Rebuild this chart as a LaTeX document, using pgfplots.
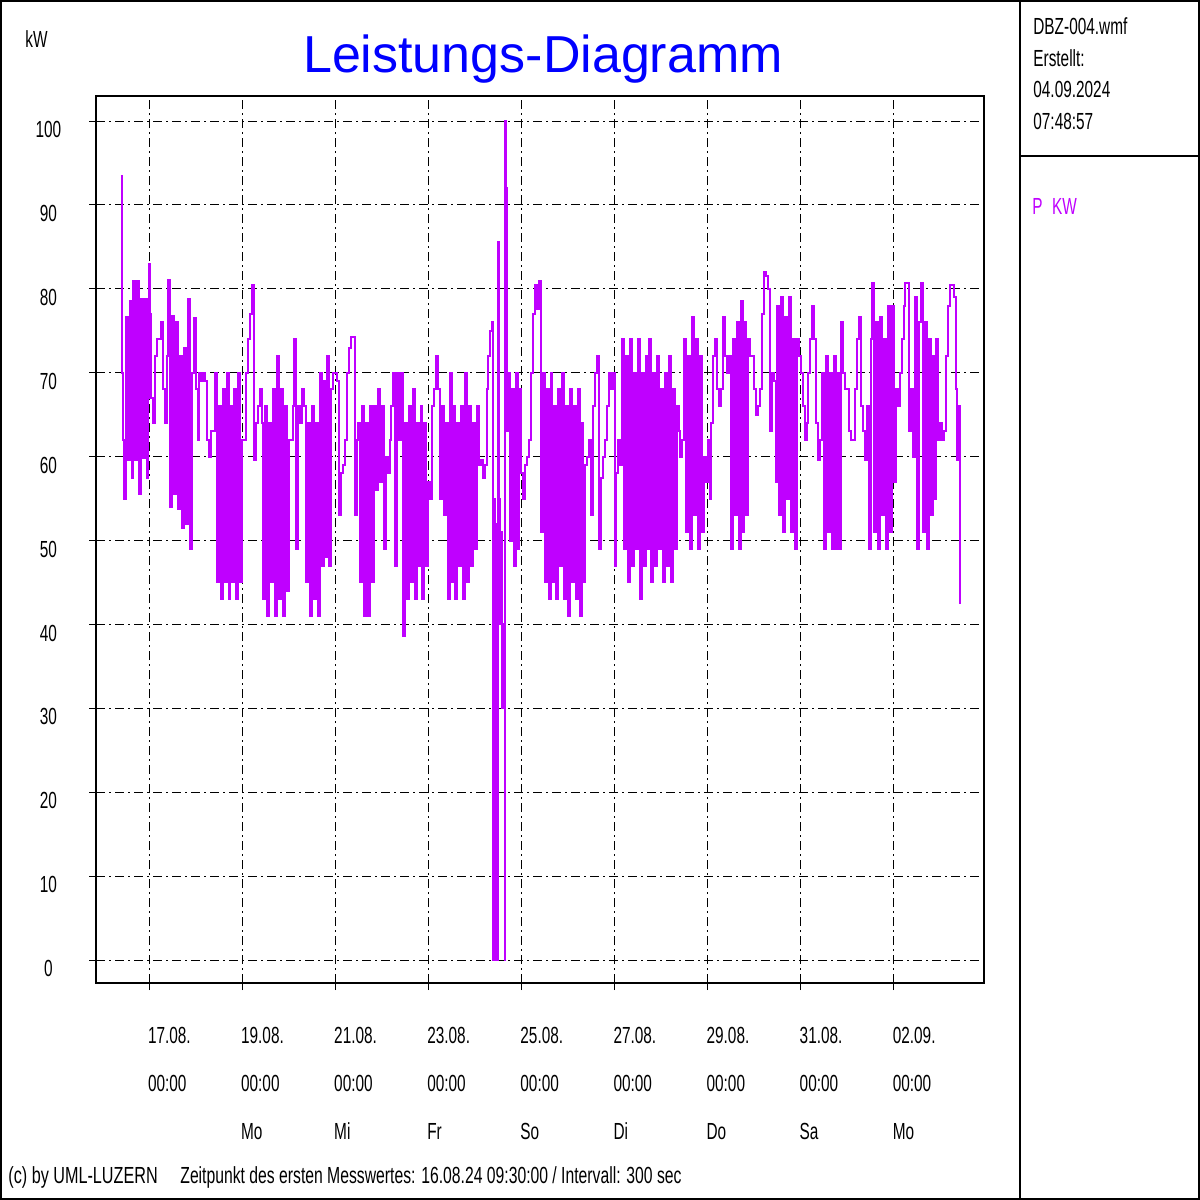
\documentclass[border=0pt]{standalone}
\usepackage{fontspec}
\usepackage{pgfplots}
\pgfplotsset{compat=1.18}
\setmainfont{Liberation Sans}[FakeStretch=0.66]
\newfontfamily\titlefont{Liberation Sans}
\newfontfamily\footfont{Liberation Sans}[FakeStretch=0.695]
\newfontfamily\footfontb{Liberation Sans}[FakeStretch=0.675]
\definecolor{ppl}{RGB}{191,0,255}
\definecolor{ttl}{RGB}{0,0,255}
\newcommand{\lbl}{\fontsize{11.65bp}{24bp}\selectfont}
\begin{document}
\begin{tikzpicture}
\path[use as bounding box] (0,0) rectangle (600bp,-600bp);
\begin{axis}[
  at={(48bp,-491.5bp)}, anchor=south west, scale only axis,
  width=444bp, height=443.5bp,
  xmin=-27.33, xmax=430.5, ymin=-2.74, ymax=102.98,
  axis line style={black, line width=0.75bp},
  xtick={0,48,...,384}, ytick={0,10,...,100},
  tick pos=left,
  grid=major,
  major grid style={black, line width=0.5bp, dash pattern=on 4.5bp off 2bp on 1bp off 2bp},
  tick align=outside, major tick length=3.5bp,
  major tick style={black, line width=0.5bp},
  xticklabels={{17.08.\\00:00\\\strut}, {19.08.\\00:00\\Mo}, {21.08.\\00:00\\Mi}, {23.08.\\00:00\\Fr}, {25.08.\\00:00\\So}, {27.08.\\00:00\\Di}, {29.08.\\00:00\\Do}, {31.08.\\00:00\\Sa}, {02.09.\\00:00\\Mo}},
  xticklabel style={font=\lbl, align=left, anchor=north west, inner sep=0pt, yshift=-18.5bp, xshift=-0.7bp},
  yticklabel style={font=\lbl, anchor=north, inner sep=0pt, xshift=-20.3bp},
  /pgf/number format/assume math mode=true,
]
\addplot[const plot, color=ppl, line width=1bp] coordinates {
(-14.5,93.5) (-14,70) (-13.5,62) (-13,55) (-12,76.6) (-11,59.6) (-10,78.5) (-9,57.5) (-8,80.9) (-7,59.6) (-6,80.9) (-5,55.5) (-4,78.8) (-3,59.8) (-2,78.8) (-1,57.5) (-0.5,67) (0,83) (0.5,77) (1,67) (2,64) (3,72) (4,74) (5,74) (6,76) (7,68) (8,64) (9,64) (9.5,72)
(10,81) (11,54) (12,76.8) (13,55.5) (14,76) (15,53.7) (16,72) (17,51.5) (18,73) (19,52) (20,78.8) (21,49) (22,70) (23,76.5) (24,68) (25,62) (26,70) (27,69) (28,70) (29,69) (30,62) (31,60) (32,63) (33,63)
(34,70) (35,45) (36,66) (37,43) (38,68) (39,45) (40,70) (41,43) (42,66) (43,45) (44,68) (45,43) (46,70) (47,45) (48,62) (49,62)
(50,70) (51,74) (52,77) (53,80.5) (54,59.6) (55,64) (56,66) (57,68)
(58,64) (59,43) (60,66) (61,41) (62,64) (63,45) (64,68) (65,41) (66,72) (67,43) (68,68) (69,41) (70,66) (71,44)
(72,62) (73,62) (74,66) (75,74) (76,49) (77,66) (78,64) (79,68) (80,66)
(81,45) (82,64) (83,41) (84,66) (85,43) (86,64) (87,41) (88,70)
(89,47) (90,69) (91,48) (92,72) (93,47) (94,68)
(95,70) (96,70) (97,69) (98,53) (99,58) (100,59) (101,62) (102,70) (103,73) (104,74.3) (105,74.3) (106,53) (107,62)
(108,64) (109,45) (110,66) (111,41) (112,64) (113,41) (114,66) (115,45)
(116,66) (117,56) (118,68) (119,57) (120,66)
(121,49) (122,60) (123,58) (124,62) (125,66) (126,70) (127,47) (128,70) (129,62) (130,70)
(131,38.6) (132,64) (133,43) (134,66) (135,45) (136,68) (137,43) (138,64) (139,47) (140,66) (141,43) (142,64) (143,47)
(144,57) (145,55) (146,66) (147,68) (148,72) (149,68)
(150,55) (151,66) (152,53) (153,64) (154,43) (155,70) (156,45) (157,66) (158,43) (159,64) (160,47) (161,66) (162,43) (163,70) (164,45) (165,66) (166,47) (167,64) (168,49) (169,66)
(170,59) (171,59.6) (172,57.5) (173,59) (174,68) (175,72) (176,75) (177,76)
(177.5,0) (178,55) (178.5,0) (179,52) (179.5,0) (180,85.6) (180.5,55) (181,40) (181.5,51) (182,30) (182.5,40) (183,36) (183.3,0) (183.6,100) (184,92) (184.5,63)
(185,70) (186,50) (187,68) (188,47) (189,70) (190,49) (191,68)
(192,58) (193,55) (194,59) (195,60) (196,62)
(197,70) (198,77) (199,80.4) (200,77.6) (201,80.9)
(202,51) (203,70) (204,45) (205,68) (206,43) (207,70) (208,45) (209,66) (210,43) (211,68) (212,47) (213,70) (214,43) (215,66) (216,41) (217,68) (218,45) (219,66) (220,43) (221,68) (222,41) (223,64) (224,45)
(225,59) (226,60) (227,62) (228,53) (229,66) (230,70) (231,72) (232,49) (233,57.5) (234,60) (235,62) (236,66) (237,70) (238,68) (239,70) (240,47) (241,58) (242,62) (243,59)
(244,74) (245,49) (246,72) (247,45) (248,74) (249,47) (250,70) (251,49) (252,74) (253,43)
(254,70) (255,47) (256,72) (257,49) (258,74) (259,45) (260,70) (261,47) (262,72) (263,49) (264,68) (265,45) (266,70) (267,47) (268,72) (269,45) (270,68) (271,49) (272,66)
(273,63) (274,60) (275,62)
(276,74) (277,51) (278,72) (279,49) (280,76.6) (281,53) (282,74) (283,49) (284,72) (285,51)
(286,60) (287,57) (288,62) (289,55) (290,64) (291,72) (292,74) (293,68) (294,66) (295,68) (296,76.6) (297,72) (298,70) (299,72)
(300,49) (301,74) (302,53) (303,76) (304,49) (305,78.6) (306,51) (307,76) (308,53) (309,74)
(310,72) (311,72) (312,68) (313,65) (314,66) (315,68) (316,77) (317,82) (318,81.5) (319,80) (320,63) (321,70) (322,69)
(323,57) (324,78) (325,53) (326,79) (327,51) (328,76.6) (329,55) (330,79) (331,51) (332,74) (333,49)
(334,74) (335,72) (336,70) (337,66) (338,62) (339,64) (340,70) (341,74) (342,78) (343,74) (344,64) (345,59.6) (346,62)
(347,70) (348,49) (349,72) (350,51) (351,70) (352,49) (353,72) (354,49) (355,70) (356,49) (357,76)
(358,70) (359,68) (360,68) (361,63) (362,62) (363,62) (364,68) (365,74) (366,76.6) (367,66) (368,63) (369,59.6) (370,66)
(371,49) (372,74) (373,80.7) (374,51) (375,76) (376,49) (377,76.6) (378,53) (379,74) (380,49) (381,78) (382,51) (383,78)
(384,57) (385,68) (386,66) (387,70) (388,74) (389,78) (390,80.7) (391,80.7) (392,63) (393,68) (394,60)
(395,79) (396,49) (397,76) (398,80.7) (399,51) (400,76) (401,49) (402,74) (403,53) (404,72) (405,55) (406,74)
(407,62) (408,64) (409,62) (410,63) (411,72) (412,78) (413,80.5) (414,80.5) (415,79) (416,68) (416.5,59.6) (417,66) (418,42.4)
};
\end{axis}
\begin{scope}[x=0.5bp,y=-0.5bp]
 \draw[line width=1bp] (1,1) rectangle (1199,1199);
 \draw[line width=1bp] (1020,0) -- (1020,1200);
 \draw[line width=1bp] (1020,156) -- (1200,156);
 \node[anchor=base, inner sep=0pt, text=ttl, font=\titlefont\fontsize{26bp}{30bp}\selectfont] at (543,73) {Leistungs-Diagramm};
 \node[anchor=base west, inner sep=0pt, font=\lbl] at (25,47) {kW};
 \node[anchor=base west, inner sep=0pt, font=\lbl] at (1033,34) {DBZ-004.wmf};
 \node[anchor=base west, inner sep=0pt, font=\lbl] at (1033,66) {Erstellt:};
 \node[anchor=base west, inner sep=0pt, font=\lbl] at (1033,98) {04.09.2024};
 \node[anchor=base west, inner sep=0pt, font=\lbl] at (1033,130) {07:48:57};
 \node[anchor=base west, inner sep=0pt, font=\lbl, text=ppl] at (1032,215) {P\hspace{4.8bp}KW};
 \node[anchor=base west, inner sep=0pt, font=\footfont\lbl] at (8,1184) {(c) by UML-LUZERN};
 \node[anchor=base west, inner sep=0pt, font=\footfontb\lbl] at (180,1184) {Zeitpunkt des ersten Messwertes: 16.08.24 09:30:00 / Intervall: 300 sec};
\end{scope}
\end{tikzpicture}
\end{document}
